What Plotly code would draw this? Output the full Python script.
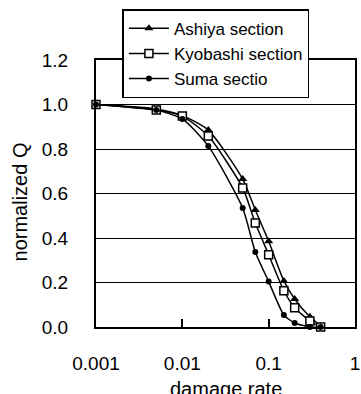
import plotly.graph_objects as go

damage_rate = [0.001, 0.005, 0.01, 0.02, 0.05, 0.07, 0.1, 0.15, 0.2, 0.3, 0.4]
ashiya = [1.0, 0.98, 0.95, 0.885, 0.665, 0.526, 0.385, 0.207, 0.126, 0.046, 0.005]
kyobashi = [1.0, 0.975, 0.948, 0.858, 0.625, 0.467, 0.325, 0.163, 0.087, 0.027, 0.0]
suma = [1.0, 0.975, 0.935, 0.813, 0.535, 0.337, 0.204, 0.054, 0.018, 0.0, 0.0]

x_tickvals = [0.001, 0.01, 0.1, 1]
x_ticktext = ["0.001", "0.01", "0.1", "1"]
y_tickvals = [0.0, 0.2, 0.4, 0.6, 0.8, 1.0, 1.2]

FONT = "Liberation Sans, Arial, sans-serif"

fig = go.Figure()
fig.add_trace(go.Scatter(
    x=damage_rate, y=ashiya, name="Ashiya section", mode="lines+markers",
    line=dict(color="black", width=1.5, shape="spline", smoothing=0.6),
    marker=dict(symbol="triangle-up", size=8, color="black"),
    cliponaxis=False))
fig.add_trace(go.Scatter(
    x=damage_rate, y=kyobashi, name="Kyobashi section", mode="lines+markers",
    line=dict(color="black", width=1.5, shape="spline", smoothing=0.6),
    marker=dict(symbol="square", size=8, color="white", line=dict(color="black", width=1.5)),
    cliponaxis=False))
fig.add_trace(go.Scatter(
    x=damage_rate, y=suma, name="Suma sectio", mode="lines+markers",
    line=dict(color="black", width=1.5, shape="spline", smoothing=0.6),
    marker=dict(symbol="circle", size=6, color="black"),
    cliponaxis=False))

fig.update_layout(
    width=361, height=394,
    margin=dict(l=96, r=1, t=60, b=67),
    paper_bgcolor="white", plot_bgcolor="white",
    font=dict(family=FONT, size=19, color="black"),
    showlegend=True,
    legend=dict(
        x=0.102, y=1.19, xanchor="left", yanchor="top",
        bgcolor="white", bordercolor="black", borderwidth=1.5,
        font=dict(family=FONT, size=17, color="black"),
        tracegroupgap=0, itemwidth=40,
    ),
    xaxis=dict(
        type="log", range=[-3, 0],
        tickvals=x_tickvals, ticktext=x_ticktext,
        ticks="inside", ticklen=8, tickwidth=1.5, tickcolor="black",
        showline=True, linecolor="black", linewidth=2, mirror=True,
        showgrid=False, zeroline=False,
        ticklabelstandoff=18, ticklabeloverflow="allow",
        tickfont=dict(family=FONT, size=19),
    ),
    yaxis=dict(
        range=[0, 1.2], tickvals=y_tickvals, tickformat=".1f",
        ticks="", showline=True, linecolor="black", linewidth=2, mirror=True,
        showgrid=True, gridcolor="black", gridwidth=1.2, zeroline=False,
        ticklabelstandoff=22,
        tickfont=dict(family=FONT, size=19),
    ),
    annotations=[
        dict(text="normalized Q", xref="paper", yref="paper", x=-0.2917, y=0.468,
             xanchor="center", yanchor="middle", textangle=-90, showarrow=False,
             font=dict(family=FONT, size=20, color="black")),
        dict(text="damage rate", xref="paper", yref="paper", x=0.5, y=-0.232,
             xanchor="center", yanchor="middle", showarrow=False,
             font=dict(family=FONT, size=20, color="black")),
    ],
)

fig.write_html("out.html")
